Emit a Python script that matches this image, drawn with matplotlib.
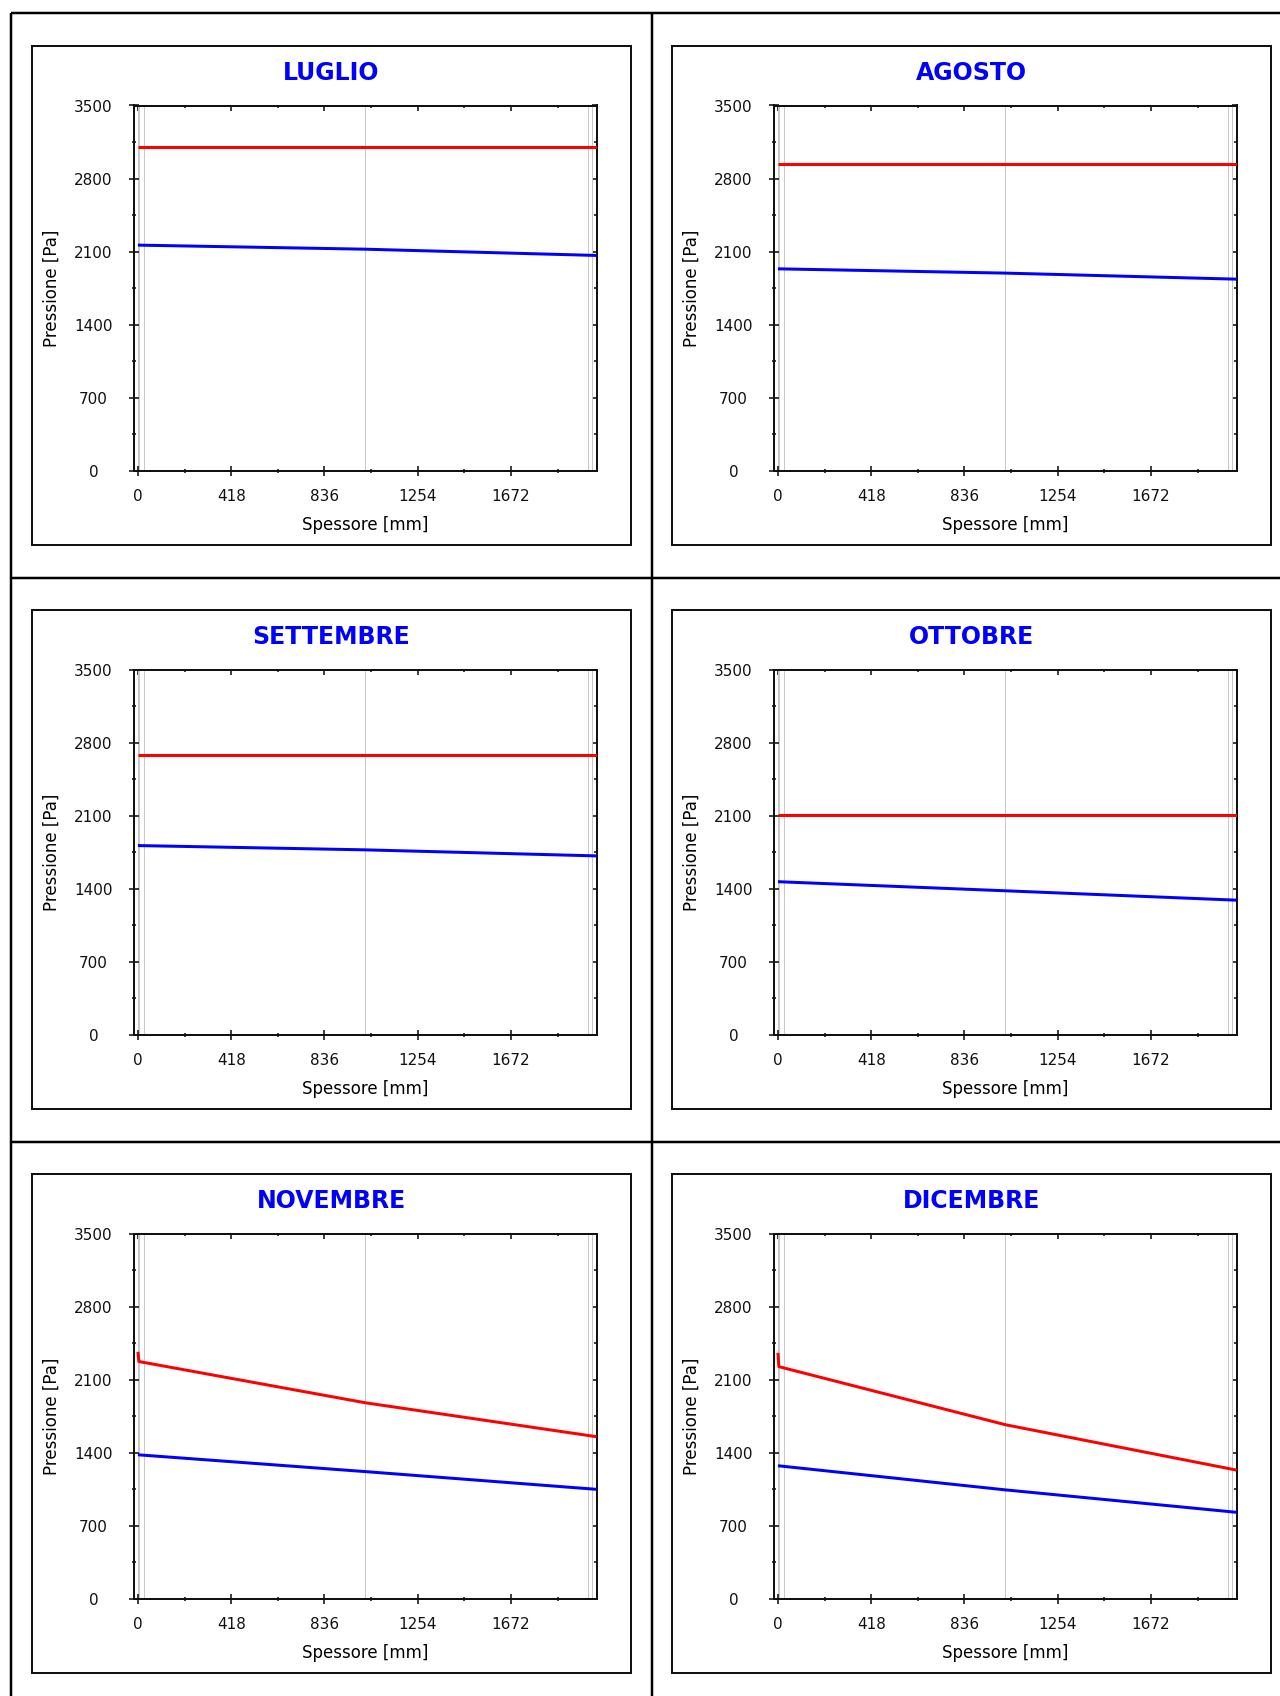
import matplotlib
matplotlib.use("Agg")
import matplotlib.pyplot as plt
import numpy as np
from matplotlib.patches import Rectangle
from matplotlib.lines import Line2D
from matplotlib.ticker import FixedLocator

# ---------------- data ----------------
months = ["LUGLIO", "AGOSTO", "SETTEMBRE", "OTTOBRE", "NOVEMBRE", "DICEMBRE"]
x_ticks = [0, 418, 836, 1254, 1672]
y_ticks = [0, 700, 1400, 2100, 2800, 3500]
x_minor = [209, 627, 1045, 1463, 1881]
y_minor = [350, 1050, 1750, 2450, 3150]
layer_bounds = [0, 4, 25, 1019, 2015, 2036]   # mm, layer interfaces
wall_end = 2056                                 # mm

# positions (mm) where pressures were read
x_pts = [0, 1019, 2056]
x_pts_winter = [0, 4, 1019, 2056]

# saturation pressure (red) and vapour pressure (blue), Pa
luglio_psat = [3103, 3103, 3103]
luglio_pv = [2163, 2124, 2064]
agosto_psat = [2938, 2938, 2938]
agosto_pv = [1936, 1895, 1837]
settembre_psat = [2678, 2678, 2678]
settembre_pv = [1814, 1773, 1715]
ottobre_psat = [2103, 2103, 2103]
ottobre_pv = [1468, 1381, 1291]
novembre_psat = [2367, 2274, 1879, 1554]
novembre_pv = [1381, 1220, 1050]
dicembre_psat = [2357, 2225, 1669, 1234]
dicembre_pv = [1276, 1045, 830]

psat_series = [(x_pts, luglio_psat), (x_pts, agosto_psat), (x_pts, settembre_psat),
               (x_pts, ottobre_psat), (x_pts_winter, novembre_psat), (x_pts_winter, dicembre_psat)]
pv_series = [luglio_pv, agosto_pv, settembre_pv, ottobre_pv, novembre_pv, dicembre_pv]

# ---------------- layout (pixels) ----------------
W, H = 1280, 1696
fig = plt.figure(figsize=(W / 100, H / 100), dpi=100)
fig.patch.set_facecolor("white")


def fx(x):
    return x / W


def fy(y):
    return 1 - y / H


PT = 0.72  # points per pixel

# table grid
tbl_lw = 2.5 * PT
for (x0, y0, x1, y1) in [(10.5, 12.5, W, 12.5), (10.5, 577.5, W, 577.5), (10.5, 1141.5, W, 1141.5),
                         (10.5, 12.5, 10.5, H), (652, 12.5, 652, H)]:
    fig.add_artist(Line2D([fx(x0), fx(x1)], [fy(y0), fy(y1)], transform=fig.transFigure,
                          color="black", lw=tbl_lw, solid_capstyle="butt"))

col_dx = 640
row_dy = 564

for i, month in enumerate(months):
    r, c = divmod(i, 2)
    # panel frame
    px0 = 32 + col_dx * c
    py0 = 46 + row_dy * r
    pw, ph = 599, 499
    fig.add_artist(Rectangle((fx(px0), fy(py0 + ph)), pw / W, ph / H, transform=fig.transFigure,
                             fill=False, edgecolor="#111111", lw=2 * PT))
    # title
    fig.text(fx(px0 + pw / 2), fy(73 + row_dy * r), month, ha="center", va="center",
             fontsize=17, fontweight="bold", color="#0000ff")

    # axes
    al = 133.5 + col_dx * c
    at = 105.5 + row_dy * r
    aw, ah = 463.2, 365.5
    ax = fig.add_axes([fx(al), fy(at + ah), aw / W, ah / H])
    ax.set_xlim(-20, wall_end)
    ax.set_ylim(0, 3500)

    for xb in layer_bounds:
        ax.axvline(xb, color="#c8c8c8", lw=1.0 * PT, zorder=1)

    xs, ps = psat_series[i]
    ax.plot(xs, ps, color="#ff0000", lw=3 * PT, zorder=3, solid_capstyle="butt")
    ax.plot(x_pts, pv_series[i], color="#0000ff", lw=3 * PT, zorder=3, solid_capstyle="butt")

    for s in ax.spines.values():
        s.set_linewidth(2 * PT)
        s.set_color("#111111")

    ax.set_xticks(x_ticks)
    ax.set_xticklabels([str(v) for v in x_ticks])
    ax.set_yticks(y_ticks)
    ax.set_yticklabels([str(v) for v in y_ticks])
    ax.xaxis.set_minor_locator(FixedLocator(x_minor))
    ax.yaxis.set_minor_locator(FixedLocator(y_minor))
    ax.tick_params(axis="both", which="major", direction="inout", length=10 * PT, width=1.6 * PT,
                   labelsize=11, top=False, right=False, colors="#111111")
    ax.tick_params(axis="both", which="minor", direction="inout", length=5 * PT, width=1.6 * PT,
                   top=False, right=False, color="#111111")
    ax.tick_params(axis="x", which="major", pad=13 * PT)
    ax.tick_params(axis="y", which="major", pad=35 * PT)
    for lab in ax.get_yticklabels():
        lab.set_ha("center")

    ax.set_xlabel("Spessore [mm]", fontsize=12, va="center")
    ax.xaxis.set_label_coords(0.5, -(525 - 471) / ah)
    ax.set_ylabel("Pressione [Pa]", fontsize=12, va="center")
    ax.yaxis.set_label_coords((51.5 - 133.5) / aw, 0.5)

    # inward ticks on top and right (spines already drawn by main axes)
    top = ax.secondary_xaxis("top")
    top.set_xticks(x_ticks)
    top.xaxis.set_minor_locator(FixedLocator(x_minor))
    top.tick_params(axis="x", which="major", direction="in", length=6 * PT, width=1.6 * PT,
                    labeltop=False, labelbottom=False, color="#111111")
    top.tick_params(axis="x", which="minor", direction="in", length=3 * PT, width=1.6 * PT,
                    color="#111111")
    for s in top.spines.values():
        s.set_visible(False)

    right = ax.secondary_yaxis("right")
    right.set_yticks(y_ticks)
    right.yaxis.set_minor_locator(FixedLocator(y_minor))
    right.tick_params(axis="y", which="major", direction="in", length=5 * PT, width=1.6 * PT,
                      labelright=False, labelleft=False, color="#111111")
    right.tick_params(axis="y", which="minor", direction="in", length=3 * PT, width=1.6 * PT,
                      color="#111111")
    for s in right.spines.values():
        s.set_visible(False)

fig.savefig("out.png", dpi=100, facecolor="white")
